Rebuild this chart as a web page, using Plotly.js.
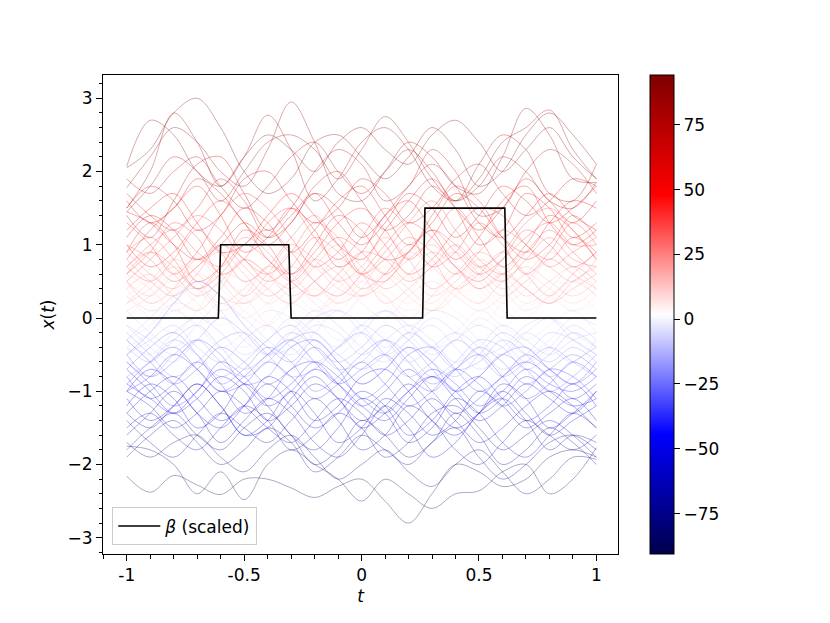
<!DOCTYPE html>
<html>
<head>
<meta charset="utf-8">
<script src="https://cdn.plot.ly/plotly-3.0.1.min.js"></script>
<style>html,body{margin:0;padding:0;background:#fff;}#chart{width:830px;height:623px;}</style>
</head>
<body>
<div id="chart"></div>
<script>
// ---- data ----
var tGrid = [-1.0,-0.9,-0.8,-0.7,-0.6,-0.5,-0.4,-0.3,-0.2,-0.1,0.0,0.1,0.2,0.3,0.4,0.5,0.6,0.7,0.8,0.9,1.0];

var betaT = [-1, -0.61, -0.60, -0.31, -0.30, 0.26, 0.27, 0.61, 0.62, 1];
var betaY = [0, 0, 1, 1, 0, 0, 1.5, 1.5, 0, 0];

var samplePaths = [
  [2.07,2.7,2.5,2.0,1.8,2.2,2.5,2.3,2.0,2.4,2.6,2.3,2.1,2.5,2.7,2.4,2.0,2.3,2.6,2.2,1.9],
  [2.05,2.3,2.8,3.0,2.6,2.0,1.7,1.9,2.4,2.5,2.2,1.9,2.2,2.6,2.3,1.8,2.0,2.5,2.8,2.5,2.1],
  [1.78,2.2,2.6,2.4,2.0,1.8,2.3,2.95,2.4,1.7,1.6,2.0,2.4,2.2,1.8,1.7,2.2,2.86,2.5,1.9,1.85],
  [1.5,2.0,2.8,2.4,1.8,2.2,2.77,2.3,1.6,1.9,2.4,2.6,2.3,1.8,1.6,2.1,2.5,2.3,1.7,1.6,2.1],
  [1.45,1.8,2.2,2.0,1.6,2.0,2.4,2.5,2.3,1.9,2.3,2.75,2.4,1.9,1.6,1.9,2.4,2.6,2.84,2.3,1.9],
  [1.4,1.1,1.6,2.1,2.2,1.7,1.2,1.5,2.0,2.3,2.1,1.6,1.8,2.3,2.0,1.4,1.5,2.0,2.3,2.1,1.7],
  [1.45,1.3,1.0,0.8,1.1,1.5,1.3,0.9,1.2,1.6,1.8,1.4,1.0,1.3,1.7,1.5,1.1,0.9,1.3,1.6,1.5],
  [1.2,1.5,1.7,1.3,0.9,1.0,1.4,1.7,1.4,1.0,0.8,1.2,1.6,1.9,1.5,1.0,1.2,1.7,1.5,1.1,1.3],
  [0.8,1.2,1.5,1.8,1.4,0.9,1.1,1.5,1.2,0.7,0.9,1.4,1.6,1.2,0.8,1.1,1.6,1.8,1.3,1.0,1.2],
  [1.0,0.7,0.9,1.3,1.6,1.3,0.8,0.6,1.0,1.4,1.2,0.8,0.9,1.4,1.8,1.6,1.1,0.8,1.0,1.4,1.1],
  [0.6,0.9,1.3,1.1,0.6,0.8,1.3,1.5,1.1,0.8,1.1,1.5,1.2,0.7,0.9,1.3,1.0,0.6,0.9,1.3,1.0],
  [1.3,1.0,0.6,0.9,1.4,1.7,1.5,1.1,0.7,0.9,1.3,1.0,0.6,0.8,1.2,1.5,1.4,1.0,0.8,1.1,0.9],
  [0.9,1.3,1.0,0.5,0.7,1.2,1.0,0.6,0.9,1.3,1.5,1.2,0.8,1.1,1.5,1.1,0.7,1.0,1.4,1.2,0.8],
  [1.7,1.4,1.2,1.5,1.9,1.6,1.1,1.3,1.8,2.0,1.6,1.2,1.4,1.8,1.5,1.2,1.5,1.9,1.6,1.3,1.6],
  [0.5,0.8,1.1,1.4,1.2,0.8,0.6,0.9,1.3,1.1,0.6,0.5,0.9,1.2,1.0,0.7,0.9,1.3,1.5,1.2,0.8],
  [0.7,0.5,0.8,1.2,0.9,0.5,0.7,1.1,1.4,1.0,0.6,0.9,1.3,1.6,1.2,0.8,0.6,0.9,1.2,0.9,0.6],
  [1.1,1.4,1.2,0.8,1.0,1.3,1.1,1.4,1.7,1.3,1.0,1.3,1.7,1.5,1.1,1.4,1.8,1.6,1.3,1.5,1.8],
  [1.5,1.8,1.6,1.2,1.4,1.9,2.0,1.6,1.3,1.5,1.9,1.7,1.3,1.5,1.9,2.1,1.7,1.4,1.6,1.9,1.8],
  [0.4,0.6,0.3,0.1,0.4,0.8,0.6,0.3,0.5,0.8,0.6,0.2,0.4,0.7,0.9,0.6,0.3,0.5,0.8,0.6,0.4],
  [0.2,0.5,0.8,0.6,0.3,0.2,0.5,0.9,0.7,0.4,0.3,0.6,0.9,0.7,0.4,0.2,0.5,0.7,0.5,0.3,0.5],
  [0.8,0.5,0.3,0.6,1.0,0.7,0.4,0.2,0.5,0.7,0.4,0.6,1.0,0.8,0.4,0.6,0.9,0.6,0.3,0.6,0.9],
  [0.1,0.3,0.6,0.4,0.1,0.3,0.7,0.5,0.2,0.0,0.3,0.6,0.4,0.1,0.3,0.7,0.5,0.2,0.4,0.7,0.5],
  [0.5,0.2,0.4,0.8,0.6,0.3,0.6,1.0,0.8,0.5,0.7,1.1,0.8,0.4,0.6,0.9,0.7,0.4,0.2,0.4,0.6],
  [0.3,0.1,0.2,0.5,0.3,0.0,0.2,0.5,0.3,0.1,0.4,0.3,0.1,0.3,0.6,0.4,0.1,0.0,0.3,0.5,0.3],
  [0.6,0.9,0.7,0.4,0.7,1.1,0.9,0.5,0.3,0.6,0.9,0.8,0.5,0.7,1.0,0.7,0.5,0.8,1.1,0.8,0.7],
  [0.0,0.2,0.4,0.2,-0.1,0.1,0.4,0.2,0.0,0.2,0.5,0.3,0.0,0.2,0.4,0.2,-0.1,0.1,0.3,0.1,0.2],
  [0.9,1.1,0.8,0.4,0.6,1.0,1.2,0.9,0.5,0.3,0.6,1.0,1.3,1.1,0.7,0.5,0.8,1.2,1.0,0.7,0.9],
  [1.6,1.3,1.5,1.9,1.7,1.3,1.0,1.3,1.7,1.5,1.1,1.4,1.8,2.1,1.8,1.3,1.1,1.4,1.7,1.4,1.2],
  [0.3,0.0,-0.2,0.1,0.5,0.3,-0.1,-0.3,0.0,0.4,0.6,0.3,0.0,0.3,0.7,0.5,0.2,0.4,0.8,0.6,0.3],
  [1.9,1.7,2.0,2.2,1.8,1.5,1.8,2.2,2.4,2.0,1.7,2.0,2.3,2.0,1.6,1.8,2.2,2.0,1.6,1.5,1.85],
  [-0.1,0.1,0.0,-0.3,-0.1,0.2,0.0,-0.2,0.1,0.3,0.0,-0.2,0.0,0.2,-0.1,-0.3,0.0,0.2,0.0,-0.2,0.0],
  [0.2,-0.1,-0.3,0.0,0.3,0.1,-0.2,0.0,0.2,-0.1,-0.3,0.0,0.2,0.0,-0.2,0.1,0.3,0.0,-0.2,0.0,0.1],
  [-0.3,-0.1,0.2,0.1,-0.2,-0.4,-0.1,0.2,0.0,-0.3,-0.2,0.1,-0.1,-0.4,-0.2,0.1,-0.1,-0.3,-0.1,0.1,-0.2],
  [-0.4,-0.6,-0.3,-0.1,-0.4,-0.7,-0.5,-0.2,-0.4,-0.7,-0.6,-0.3,-0.5,-0.8,-0.6,-0.3,-0.4,-0.7,-0.5,-0.2,-0.4],
  [-0.2,-0.5,-0.8,-0.6,-0.3,-0.2,-0.5,-0.8,-0.7,-0.4,-0.2,-0.5,-0.8,-0.6,-0.3,-0.5,-0.8,-0.6,-0.4,-0.6,-0.8],
  [-0.7,-0.4,-0.2,-0.5,-0.9,-0.7,-0.4,-0.6,-1.0,-0.8,-0.5,-0.3,-0.6,-0.9,-0.7,-0.4,-0.6,-0.9,-0.7,-0.5,-0.7],
  [-0.1,-0.3,-0.5,-0.3,0.0,-0.2,-0.5,-0.4,-0.1,-0.2,-0.5,-0.3,-0.1,-0.3,-0.6,-0.4,-0.1,-0.3,-0.5,-0.3,-0.2],
  [-0.5,-0.8,-0.6,-0.3,-0.5,-0.9,-0.8,-0.4,-0.3,-0.6,-0.9,-0.7,-0.4,-0.6,-1.0,-0.8,-0.5,-0.4,-0.7,-0.9,-0.6],
  [-0.3,0.0,0.3,0.4,0.1,-0.3,-0.5,-0.2,0.1,-0.1,-0.4,-0.6,-0.3,-0.1,-0.4,-0.7,-0.5,-0.2,-0.4,-0.6,-0.3],
  [-0.9,-0.6,-0.4,-0.7,-1.0,-0.8,-0.5,-0.3,-0.6,-0.9,-0.7,-0.5,-0.8,-1.0,-0.7,-0.5,-0.8,-1.1,-0.9,-0.6,-0.8],
  [-0.7,-1.0,-1.3,-1.1,-0.8,-1.0,-1.4,-1.2,-0.9,-1.1,-1.5,-1.3,-1.0,-0.8,-1.1,-1.4,-1.2,-0.9,-1.1,-1.3,-1.0],
  [-1.3,-1.5,-1.2,-0.9,-1.2,-1.6,-1.4,-1.0,-1.3,-1.7,-1.5,-1.1,-1.3,-1.6,-1.4,-1.0,-1.2,-1.5,-1.3,-1.1,-1.4],
  [-1.0,-0.7,-0.9,-1.3,-1.5,-1.2,-0.8,-1.0,-1.4,-1.2,-0.8,-0.7,-1.0,-1.4,-1.6,-1.3,-0.9,-1.1,-1.5,-1.3,-1.0],
  [-1.5,-1.3,-1.6,-1.8,-1.5,-1.2,-1.4,-1.8,-1.6,-1.3,-1.5,-1.9,-1.7,-1.3,-1.2,-1.5,-1.8,-1.6,-1.4,-1.6,-1.9],
  [-0.8,-1.1,-0.9,-0.6,-0.9,-1.3,-1.1,-0.7,-0.6,-0.9,-1.2,-1.0,-0.7,-1.0,-1.3,-1.1,-0.8,-0.6,-0.8,-1.1,-0.9],
  [-1.2,-0.9,-1.1,-1.5,-1.3,-0.9,-1.2,-1.6,-1.8,-1.5,-1.1,-1.3,-1.7,-1.5,-1.1,-1.3,-1.7,-1.9,-1.6,-1.3,-1.5],
  [-1.4,-1.7,-1.9,-1.6,-1.3,-1.5,-1.7,-1.4,-1.1,-1.4,-1.8,-1.6,-1.2,-1.4,-1.8,-2.0,-1.7,-1.4,-1.6,-1.8,-1.6],
  [-1.1,-1.4,-1.2,-0.9,-1.2,-1.6,-1.5,-1.1,-0.8,-1.1,-1.4,-1.2,-0.9,-1.2,-1.5,-1.3,-1.0,-1.3,-1.6,-1.4,-1.2],
  [-0.6,-0.9,-1.2,-1.0,-0.6,-0.8,-1.1,-0.9,-0.6,-0.8,-1.1,-1.3,-1.0,-0.7,-0.9,-1.2,-1.0,-0.7,-0.9,-1.0,-0.8],
  [-1.6,-1.3,-1.0,-1.3,-1.7,-1.4,-1.1,-1.3,-1.7,-1.9,-1.6,-1.2,-1.5,-1.9,-1.7,-1.3,-1.1,-1.4,-1.8,-1.6,-1.7],
  [-1.3,-1.0,-0.8,-1.1,-1.4,-1.2,-0.9,-1.2,-1.5,-1.3,-1.0,-1.2,-1.6,-1.4,-1.0,-0.8,-1.1,-1.4,-1.2,-0.9,-1.2],
  [-2.16,-2.38,-2.15,-2.28,-2.41,-2.2,-2.2,-2.32,-2.45,-2.3,-2.2,-2.5,-2.8,-2.4,-2.0,-2.1,-2.3,-2.2,-1.9,-1.8,-1.9],
  [-1.75,-1.8,-2.0,-2.4,-2.1,-2.48,-2.0,-1.8,-2.0,-2.2,-2.5,-2.2,-2.4,-2.6,-2.4,-2.36,-2.1,-2.0,-2.4,-2.2,-1.77],
  [-1.7,-1.9,-1.7,-1.6,-1.9,-2.1,-1.8,-1.6,-1.9,-2.2,-2.0,-1.8,-2.1,-2.3,-2.0,-1.8,-2.1,-2.4,-2.2,-1.9,-1.93],
  [-1.9,-1.6,-1.4,-1.7,-2.0,-1.8,-1.5,-1.7,-2.1,-1.9,-1.6,-1.8,-2.0,-1.7,-1.5,-1.9,-2.2,-2.0,-1.7,-1.6,-1.8],
  [-0.5,-0.2,0.2,0.5,0.3,-0.1,-0.4,-0.6,-0.3,-0.6,-0.9,-0.7,-0.4,-0.7,-1.0,-0.8,-0.5,-0.7,-1.0,-0.8,-0.5],
  [-1.0,-1.2,-1.5,-1.3,-1.0,-1.2,-1.5,-1.7,-1.4,-1.1,-1.3,-1.6,-1.4,-1.1,-1.4,-1.7,-1.5,-1.2,-1.0,-1.2,-1.5],
  [-0.3,-0.6,-0.9,-0.7,-0.4,-0.6,-0.9,-0.7,-0.4,-0.7,-1.1,-0.9,-0.5,-0.4,-0.7,-1.0,-0.8,-0.5,-0.7,-0.9,-0.7],
  [-1.8,-1.5,-1.3,-1.6,-1.8,-1.5,-1.3,-1.6,-2.0,-1.8,-1.4,-1.6,-1.9,-1.7,-1.3,-1.6,-2.0,-1.8,-1.5,-1.7,-2.0],
  [0.3,0.5,0.2,-0.1,0.1,0.4,0.2,-0.1,0.0,0.3,0.5,0.2,-0.1,0.1,0.4,0.3,0.0,0.2,0.5,0.4,0.1],
  [-0.2,0.1,0.4,0.3,0.0,-0.2,0.1,0.3,0.1,-0.2,-0.1,0.2,0.4,0.1,-0.1,0.1,0.3,0.1,-0.2,-0.1,0.2],
  [0.1,-0.2,-0.4,-0.1,0.2,0.0,-0.3,-0.5,-0.2,0.1,-0.1,-0.4,-0.2,0.1,0.0,-0.3,-0.5,-0.2,0.0,-0.2,-0.4],
  [0.5,0.3,0.6,0.8,0.5,0.2,0.4,0.7,0.5,0.2,0.4,0.8,0.6,0.3,0.5,0.8,0.6,0.3,0.5,0.7,0.5],
  [-0.5,-0.3,-0.1,-0.4,-0.6,-0.3,-0.1,-0.4,-0.6,-0.4,-0.1,-0.3,-0.6,-0.4,-0.2,-0.4,-0.7,-0.5,-0.2,-0.3,-0.5],
  [0.6,0.4,0.1,0.3,0.6,0.5,0.2,0.4,0.7,0.5,0.2,0.0,0.3,0.5,0.3,0.1,0.3,0.6,0.4,0.2,0.4],
  [-0.1,-0.4,-0.6,-0.3,0.0,-0.2,-0.5,-0.3,0.0,0.1,-0.2,-0.5,-0.3,0.0,-0.2,-0.5,-0.4,-0.1,0.0,-0.3,-0.5],
  [0.2,0.4,0.7,0.5,0.2,0.4,0.7,0.6,0.3,0.5,0.8,0.6,0.3,0.1,0.4,0.6,0.4,0.6,0.9,0.7,0.4],
  [-0.4,-0.2,0.1,-0.1,-0.4,-0.2,0.1,0.0,-0.3,-0.5,-0.2,0.1,-0.1,-0.4,-0.3,0.0,-0.2,-0.5,-0.3,0.0,-0.1],
  [0.7,0.9,0.6,0.3,0.5,0.8,0.6,0.4,0.7,1.0,0.7,0.4,0.6,0.9,0.7,0.4,0.6,0.9,0.7,0.5,0.8],
  [-0.6,-0.8,-0.5,-0.3,-0.6,-0.8,-0.6,-0.3,-0.2,-0.5,-0.7,-0.5,-0.2,-0.4,-0.7,-0.6,-0.3,-0.5,-0.8,-0.6,-0.4],
  [0.0,0.3,0.5,0.2,0.0,0.3,0.6,0.4,0.1,0.3,0.6,0.4,0.2,0.4,0.1,-0.1,0.2,0.5,0.3,0.1,0.3],
  [-0.3,-0.5,-0.2,0.0,-0.2,-0.5,-0.3,0.0,-0.2,-0.4,-0.1,0.1,-0.2,-0.5,-0.3,-0.1,-0.3,-0.6,-0.4,-0.1,-0.3],
  [0.4,0.1,0.3,0.6,0.4,0.1,-0.1,0.2,0.4,0.2,0.5,0.7,0.4,0.2,0.5,0.7,0.4,0.1,0.3,0.5,0.3],
  [-0.8,-0.6,-0.3,-0.5,-0.8,-0.6,-0.3,-0.1,-0.4,-0.6,-0.4,-0.1,-0.3,-0.6,-0.8,-0.5,-0.2,-0.4,-0.6,-0.4,-0.6],
  [0.9,0.6,0.4,0.7,0.9,0.6,0.3,0.5,0.8,0.6,0.3,0.5,0.8,1.0,0.7,0.4,0.6,0.4,0.2,0.5,0.7],
  [1.0,0.8,0.5,0.7,1.0,0.8,0.5,0.7,1.1,0.9,0.6,0.8,1.1,0.9,0.6,0.9,1.2,1.0,0.7,0.9,1.1],
  [-1.0,-0.8,-0.5,-0.7,-1.0,-0.9,-0.6,-0.8,-1.1,-0.9,-0.6,-0.9,-1.2,-1.0,-0.7,-0.9,-1.2,-1.0,-0.7,-0.8,-1.1],
  [0.7,1.0,1.2,0.9,0.7,1.0,0.8,0.5,0.8,1.1,0.9,0.6,0.9,1.2,0.9,0.6,0.8,1.1,1.3,1.0,1.0],
  [-0.9,-1.1,-1.3,-1.0,-0.7,-0.9,-1.2,-1.0,-0.7,-0.9,-1.2,-1.4,-1.1,-0.8,-1.0,-1.3,-1.1,-0.8,-1.0,-1.2,-1.1]
];
var sampleScores = [
  90,93,85,80,82,72,
  55,52,48,45,40,42,44,62,36,35,58,66,
  22,20,28,14,26,10,32,6,
  38,64,12,78,
  0,2,-5,
  -18,-22,-28,-12,-30,-10,-34,
  -48,-55,-50,-63,-40,-60,-66,-52,-38,-62,-46,
  -90,-85,-78,-72,
  -25,-56,-32,-70,
  8,3,-9,18,-14,13,-11,17,-7,24,-20,9,-10,11,-19,25,
  34,-36,37,-42
];
var colorTicks = [-75,-50,-25,0,25,50,75];

// ---- style ----
var cMin = -90.6, cMax = 94.2;
var seismic = [[0,[0,0,76]],[0.25,[0,0,255]],[0.5,[255,255,255]],[0.75,[255,0,0]],[1,[127,0,0]]];
function colorOf(v, a){
  var f = (v - cMin)/(cMax - cMin);
  f = Math.max(0, Math.min(1, f));
  for (var i=0;i<seismic.length-1;i++){
    var s0 = seismic[i], s1 = seismic[i+1];
    if (f <= s1[0]){
      var u = (f - s0[0])/(s1[0]-s0[0]);
      var c = s0[1].map(function(x,k){return Math.round(x + u*(s1[1][k]-x));});
      return 'rgba('+c[0]+','+c[1]+','+c[2]+','+a+')';
    }
  }
  return 'rgba(127,0,0,'+a+')';
}
var plotlyScale = seismic.map(function(s){return [s[0],'rgb('+s[1].join(',')+')'];});

var traces = [];
samplePaths.forEach(function(p, i){
  traces.push({
    x: tGrid, y: p, type:'scatter', mode:'lines',
    line:{color: colorOf(sampleScores[i], 0.42), width:0.8, shape:'spline', smoothing:1},
    showlegend:false, hoverinfo:'skip'
  });
});
// colorbar carrier (off-screen point)
traces.push({
  x:[5], y:[5], type:'scatter', mode:'markers', showlegend:false, hoverinfo:'skip',
  marker:{color:[0], colorscale:plotlyScale, cmin:cMin, cmax:cMax, showscale:true, size:1,
    colorbar:{
      x:1.062, xanchor:'left', y:0.5, yanchor:'middle', len:1, lenmode:'fraction',
      thickness:24, thicknessmode:'pixels', xpad:0, ypad:0,
      outlinewidth:1, outlinecolor:'#000',
      tickmode:'array', tickvals:colorTicks, ticks:'outside', ticklen:6, tickcolor:'#000',
      tickfont:{family:'DejaVu Sans', size:17, color:'#000'}
    }}
});
traces.push({
  x: betaT, y: betaY, type:'scatter', mode:'lines',
  line:{color:'#000', width:1.6}, name:'<i>β</i> (scaled)', hoverinfo:'skip'
});

var font = {family:'DejaVu Sans', size:17, color:'#000'};
var layout = {
  width:830, height:623,
  margin:{l:103, r:212, t:75, b:69, pad:0},
  paper_bgcolor:'#fff', plot_bgcolor:'#fff',
  font: font,
  showlegend:true,
  legend:{x:0.018, y:0.018, xanchor:'left', yanchor:'bottom', bgcolor:'rgba(255,255,255,0.8)',
    bordercolor:'#cccccc', borderwidth:1, font:font, itemwidth:42},
  xaxis:{
    range:[-1.101, 1.092], showgrid:false, zeroline:false,
    showline:true, linecolor:'#000', linewidth:1, mirror:true,
    tickmode:'array', tickvals:[-1,-0.5,0,0.5,1], ticktext:['-1','-0.5','0','0.5','1'],
    ticks:'outside', ticklen:6, tickcolor:'#000', tickfont:font,
    minor:{dtick:0.1, tick0:0, ticks:'outside', ticklen:3.5, tickcolor:'#000', showgrid:false},
    title:{text:'<i>t</i>', font:font, standoff:5}
  },
  yaxis:{
    range:[-3.222, 3.318], showgrid:false, zeroline:false,
    showline:true, linecolor:'#000', linewidth:1, mirror:true,
    tickmode:'array', tickvals:[-3,-2,-1,0,1,2,3], ticktext:['\u22123','\u22122','\u22121','0','1','2','3'],
    ticks:'outside', ticklen:6, tickcolor:'#000', tickfont:font,
    minor:{dtick:0.2, tick0:0, ticks:'outside', ticklen:3.5, tickcolor:'#000', showgrid:false},
    title:{text:'<i>x</i>(<i>t</i>)', font:font, standoff:8}
  }
};
Plotly.newPlot('chart', traces, layout, {displayModeBar:false, staticPlot:true});
</script>
</body>
</html>
